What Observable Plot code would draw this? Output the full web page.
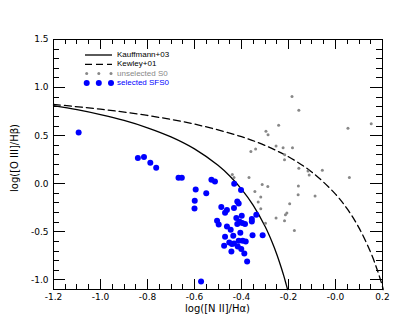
<!DOCTYPE html>
<html><head><meta charset="utf-8">
<script src="https://cdn.jsdelivr.net/npm/d3@7"></script>
<script src="https://cdn.jsdelivr.net/npm/@observablehq/plot@0.6"></script>
<style>body{margin:0;background:#fff} #chart{width:415px;height:332px}</style>
</head><body><div id="chart"></div>
<script>
// selected SFS0 (blue)
const selX = [-1.093,-0.841,-0.815,-0.788,-0.763,-0.668,-0.654,-0.528,-0.513,-0.595,-0.550,-0.599,-0.600,-0.486,-0.462,-0.470,-0.432,-0.418,-0.412,-0.399,-0.422,-0.504,-0.497,-0.418,-0.408,-0.397,-0.385,-0.356,-0.356,-0.337,-0.462,-0.446,-0.405,-0.435,-0.470,-0.353,-0.452,-0.441,-0.432,-0.412,-0.395,-0.382,-0.474,-0.416,-0.401,-0.443,-0.388,-0.376,-0.572,-0.431,-0.402,-0.310];
const selY = [0.534,0.268,0.278,0.219,0.167,0.063,0.063,0.042,0.024,-0.059,-0.100,-0.177,-0.257,-0.243,-0.274,-0.302,-0.253,-0.184,-0.205,-0.333,-0.357,-0.385,-0.424,-0.420,-0.396,-0.409,-0.420,-0.368,-0.393,-0.323,-0.445,-0.479,-0.510,-0.542,-0.552,-0.535,-0.611,-0.628,-0.622,-0.594,-0.594,-0.601,-0.646,-0.653,-0.680,-0.705,-0.726,-0.809,-1.018,0.000,-0.066,-0.535];
// unselected S0 (gray)
const unsX = [-0.185,-0.156,0.152,0.053,-0.242,-0.296,-0.287,-0.253,-0.223,-0.183,-0.360,-0.340,-0.216,-0.217,-0.156,-0.117,-0.112,-0.056,0.059,-0.439,-0.432,-0.368,-0.312,-0.288,-0.343,-0.158,-0.159,-0.087,-0.318,-0.329,-0.195,-0.318,-0.207,-0.213,-0.253,-0.217,-0.298,-0.175];
const unsY = [0.906,0.764,0.625,0.576,0.607,0.545,0.510,0.392,0.375,0.375,0.336,0.361,0.302,0.250,0.160,0.132,0.090,0.139,0.066,0.097,0.066,0.066,-0.007,-0.028,-0.080,-0.024,-0.115,-0.128,-0.139,-0.191,-0.208,-0.260,-0.305,-0.323,-0.357,-0.385,-0.410,-0.486];
// Kauffmann+03 demarcation
const kauffX = [-1.2,-1.1,-1.0,-0.9,-0.8,-0.7,-0.6,-0.5,-0.45,-0.4,-0.35,-0.3,-0.27,-0.25,-0.23,-0.22,-0.21,-0.204];
const kauffY = [0.812,0.770,0.719,0.658,0.582,0.487,0.362,0.191,0.080,-0.056,-0.225,-0.443,-0.606,-0.733,-0.879,-0.959,-1.046,-1.10];
// Kewley+01 demarcation
const kewX = [-1.2,-1.0,-0.8,-0.6,-0.4,-0.3,-0.2,-0.1,0.0,0.05,0.1,0.15,0.18,0.2,0.203];
const kewY = [0.825,0.775,0.710,0.620,0.489,0.398,0.280,0.120,-0.108,-0.262,-0.459,-0.716,-0.913,-1.069,-1.10];
// ticks
const xTicks = [-1.2,-1.0,-0.8,-0.6,-0.4,-0.2,0.0,0.2];
const xTickLabels = ["-1.2","-1.0","-0.8","-0.6","-0.4","-0.2","-0.0","0.2"];
const xMinor = [-1.15,-1.1,-1.05,-0.95,-0.9,-0.85,-0.75,-0.7,-0.65,-0.55,-0.5,-0.45,-0.35,-0.3,-0.25,-0.15,-0.1,-0.05,0.05,0.1,0.15];
const yTicks = [1.5,1.0,0.5,0.0,-0.5,-1.0];
const yTickLabels = ["1.5","1.0","0.5","0.0","-0.5","-1.0"];
const yMinor = [1.4,1.3,1.2,1.1,0.9,0.8,0.7,0.6,0.4,0.3,0.2,0.1,-0.1,-0.2,-0.3,-0.4,-0.6,-0.7,-0.8,-0.9,-1.1];
const seriesNames = ["Kauffmann+03","Kewley+01","unselected S0","selected SFS0"];

const W=415,H=332,mL=53,mR=33,mT=39,mB=43;
const sel = selX.map((x,i)=>({x,y:selY[i]}));
const uns = unsX.map((x,i)=>({x,y:unsY[i]}));
const kauff = kauffX.map((x,i)=>({x,y:kauffY[i]}));
const kew = kewX.map((x,i)=>({x,y:kewY[i]}));
const BLUE="#0000ff", GRAY="#888888";

const plot = Plot.plot({
  width:W,height:H,marginLeft:mL,marginRight:mR,marginTop:mT,marginBottom:mB,
  x:{domain:[-1.2,0.2]}, y:{domain:[-1.1,1.5]},
  style:{fontFamily:"DejaVu Sans",fontSize:"9px",color:"black",background:"white"},
  marks:[
    Plot.axisX(xTicks,{tickSize:0,tickPadding:4,tickFormat:d=>xTickLabels[xTicks.indexOf(d)],label:null}),
    Plot.axisY(yTicks,{tickSize:0,tickPadding:5,tickFormat:d=>yTickLabels[yTicks.indexOf(d)],label:null}),
    Plot.frame({stroke:"black"}),
    Plot.line(kauff,{x:"x",y:"y",stroke:"black",strokeWidth:1.3,curve:"catmull-rom"}),
    Plot.line(kew,{x:"x",y:"y",stroke:"black",strokeWidth:1.3,strokeDasharray:"7,4",curve:"catmull-rom"}),
    Plot.dot(uns,{x:"x",y:"y",r:1.5,fill:GRAY}),
    Plot.dot(sel,{x:"x",y:"y",r:3,fill:BLUE})
  ]
});
document.getElementById("chart").appendChild(plot);
const svg = d3.select(plot);

svg.append("text").attr("x",217.5).attr("y",309).attr("text-anchor","middle")
  .attr("dominant-baseline","middle").style("font-size","10px").attr("fill","black").text("log([N II]/Hα)");
svg.append("text").attr("transform","translate(15,158) rotate(-90)").attr("text-anchor","middle")
  .attr("dominant-baseline","middle").style("font-size","10px").attr("fill","black").text("log([O III]/Hβ)");
// legend
const lg = svg.append("g").attr("text-anchor","start").style("font-family","'Liberation Sans', Arial, sans-serif").style("font-size","8px");
const rows=[55,64.3,73.6,83];
lg.append("line").attr("x1",85).attr("x2",112).attr("y1",rows[0]).attr("y2",rows[0]).attr("stroke","black").attr("stroke-width",1.3);
lg.append("line").attr("x1",85).attr("x2",112).attr("y1",rows[1]).attr("y2",rows[1]).attr("stroke","black").attr("stroke-width",1.3).attr("stroke-dasharray","7,4");
[86.7,98.8,111].forEach(cx=>{
  lg.append("circle").attr("cx",cx).attr("cy",rows[2]).attr("r",1.5).attr("fill",GRAY);
  lg.append("circle").attr("cx",cx).attr("cy",rows[3]).attr("r",3).attr("fill",BLUE);
});
const cols=["black","black",GRAY,BLUE];
seriesNames.forEach((s,i)=>{
  lg.append("text").attr("x",117).attr("y",rows[i]).attr("text-anchor","start").attr("dominant-baseline","middle").attr("fill",cols[i]).text(s);
});

// inward ticks on all four sides, placed through Plot's own scales (appended last)
const xs = plot.scale("x"), ys = plot.scale("y");
const X = v => xs.apply(v), Y = v => ys.apply(v);
const xL = X(-1.2), xR = X(0.2), yT = Y(1.5), yB = Y(-1.1);
const tg = svg.append("g");
function seg(a,b,c,d){
  tg.append("line").attr("x1",a).attr("y1",b).attr("x2",c).attr("y2",d)
    .attr("stroke","#000").attr("stroke-width",1).attr("stroke-opacity",1).attr("fill","none");
}
function tickXat(v, len){
  const px = Math.round(X(v)) + 0.5;
  seg(px,yB,px,yB-len);
  seg(px,yT,px,yT+len);
}
function tickYat(v, len){
  const py = Math.round(Y(v)) + 0.5;
  seg(xL,py,xL+len,py);
  seg(xR,py,xR-len,py);
}
xTicks.forEach(v=>tickXat(v,10));
xMinor.forEach(v=>tickXat(v,5));
yTicks.forEach(v=>tickYat(v,12));
yMinor.forEach(v=>tickYat(v,6));
</script></body></html>
